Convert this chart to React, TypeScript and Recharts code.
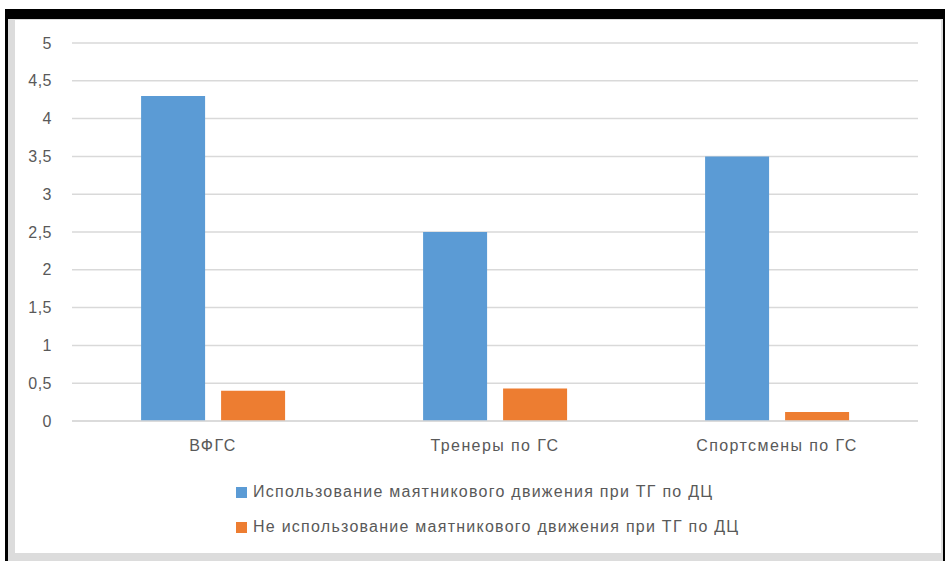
import { BarChart, Bar, XAxis, YAxis, CartesianGrid, Legend } from "recharts";

const categories = ["ВФГС", "Тренеры по ГС", "Спортсмены по ГС"];
const usedValues = [4.3, 2.5, 3.5];
const notUsedValues = [0.4, 0.43, 0.12];
const yTicks = [0, 0.5, 1, 1.5, 2, 2.5, 3, 3.5, 4, 4.5, 5];

const series = [
  { key: "used", name: "Использование маятникового движения при ТГ по ДЦ", color: "#5B9BD5" },
  { key: "notUsed", name: "Не использование маятникового движения при ТГ по ДЦ", color: "#ED7D31" },
];

const data = categories.map((c, i) => ({
  category: c,
  used: usedValues[i],
  notUsed: notUsedValues[i],
}));

const textColor = "#595959";
const font = "'Liberation Sans', Arial, sans-serif";

function LegendBox() {
  return (
    <div style={{ position: "relative", height: 70, fontFamily: font }}>
      {series.map((s, i) => (
        <div
          key={s.key}
          style={{
            position: "absolute",
            left: 221,
            top: i * 35,
            display: "flex",
            alignItems: "center",
            whiteSpace: "nowrap",
            height: 20,
          }}
        >
          <span style={{ width: 11, height: 11, background: s.color, marginRight: 6 }} />
          <span style={{ color: textColor, fontSize: 16, letterSpacing: 1.25 }}>{s.name}</span>
        </div>
      ))}
    </div>
  );
}

export default function App() {
  return (
    <div style={{ position: "absolute", left: 0, top: 0, width: 945, height: 561, background: "#fff", overflow: "hidden" }}>
      <div style={{ position: "absolute", left: 5, top: 9, width: 940, height: 552, background: "#000" }} />
      <div style={{ position: "absolute", left: 8, top: 19, width: 935, height: 542, background: "#dcdcdc" }} />
      <div style={{ position: "absolute", left: 15, top: 20, width: 926, height: 533, background: "#fff" }}>
        <BarChart
          width={926}
          height={533}
          data={data}
          margin={{ top: 23, right: 23, left: 0, bottom: 0 }}
          barCategoryGap="24.5%"
          barGap={16}
        >
          <CartesianGrid vertical={false} stroke="#d9d9d9" strokeWidth={1.5} />
          <XAxis
            dataKey="category"
            height={132}
            axisLine={{ stroke: "#d9d9d9", strokeWidth: 1.5 }}
            tickLine={false}
            tickMargin={13}
            tick={{ fill: textColor, fontSize: 16, fontFamily: font, letterSpacing: 1.4 }}
          />
          <YAxis
            width={57}
            domain={[0, 5]}
            ticks={yTicks}
            interval={0}
            axisLine={false}
            tickLine={false}
            tickMargin={14}
            tickFormatter={(v: number) => String(v).replace(".", ",")}
            tick={{ fill: textColor, fontSize: 16, fontFamily: font, letterSpacing: 0.5 }}
          />
          <Legend
            layout="vertical"
            align="center"
            verticalAlign="middle"
            wrapperStyle={{ top: 462, left: 0, width: 926 }}
            content={() => <LegendBox />}
          />
          {series.map((s) => (
            <Bar key={s.key} dataKey={s.key} name={s.name} fill={s.color} isAnimationActive={false} />
          ))}
        </BarChart>
      </div>
    </div>
  );
}
